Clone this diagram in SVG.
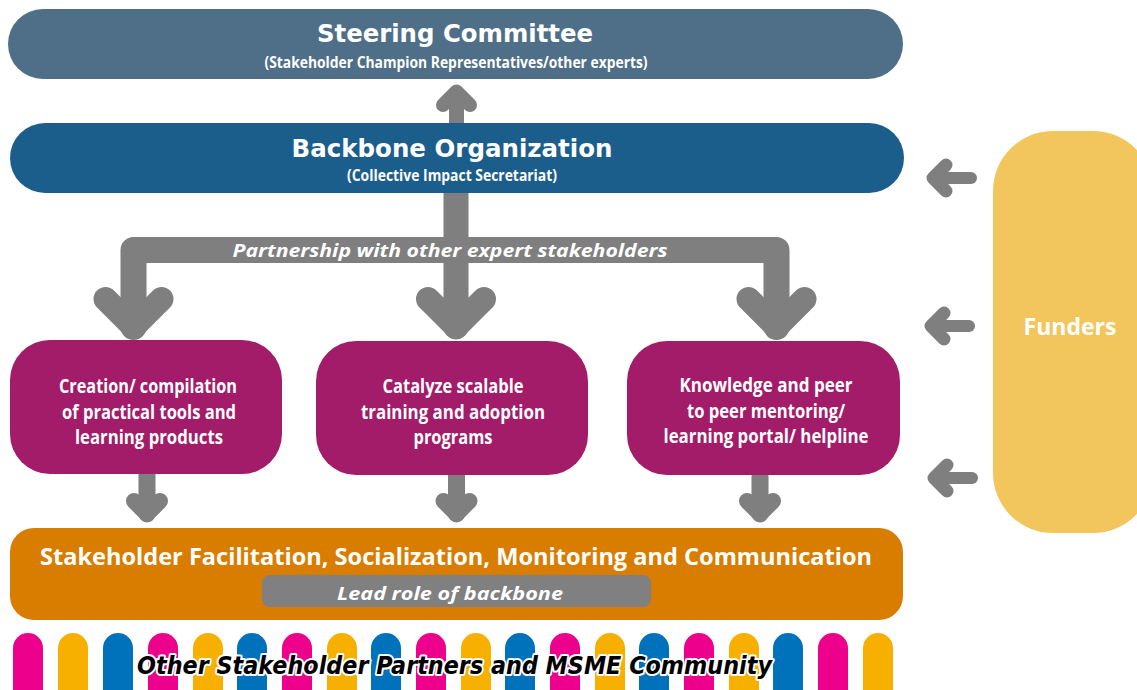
<svg xmlns="http://www.w3.org/2000/svg" width="1137" height="690" viewBox="0 0 1137 690">
<style>
.arr{fill:none;stroke:#7f7f7f;stroke-linecap:round;stroke-linejoin:round}
.t{font-family:"DejaVu Sans","Verdana",sans-serif;font-weight:bold;fill:#fff;text-anchor:middle}
.s{font-family:"Open Sans","Liberation Sans",sans-serif;font-weight:bold;fill:#fff;text-anchor:middle}
.it{font-family:"Open Sans","Liberation Sans",sans-serif;font-weight:bold;font-style:italic;fill:#fff;text-anchor:middle}
.box{fill:#a21c69}
.pm{fill:#ec008c}.py{fill:#f8b000}.pb{fill:#0071bb}
</style>
<rect width="1137" height="690" fill="#fff"/>
<g id="connectors">
  <path class="arr" stroke-width="15" d="M456.5,123 V93"/>
  <path class="arr" stroke-width="14" d="M443,105 L456.5,91.5 L470,105"/>
  <path class="arr" stroke-width="25" d="M456,193 V327"/>
  <path class="arr" stroke-width="26" d="M133.5,327 V250 H776.5 V327"/>
  <path class="arr" stroke-width="24" d="M105.5,299 L133.5,327 L161.5,299"/>
  <path class="arr" stroke-width="24" d="M428,299 L456,327 L484,299"/>
  <path class="arr" stroke-width="24" d="M748.5,299 L776.5,327 L804.5,299"/>
  <text class="it" x="450" y="257" font-size="18" textLength="435" lengthAdjust="spacingAndGlyphs">Partnership with other expert stakeholders</text>
  <path class="arr" stroke-width="17" d="M147,474 V514"/>
  <path class="arr" stroke-width="16" d="M134,501 L147,514 L160,501"/>
  <path class="arr" stroke-width="17" d="M456.5,475 V514"/>
  <path class="arr" stroke-width="16" d="M443.5,501 L456.5,514 L469.5,501"/>
  <path class="arr" stroke-width="17" d="M760,475 V514"/>
  <path class="arr" stroke-width="16" d="M747,501 L760,514 L773,501"/>
  <path class="arr" stroke-width="12" d="M971,178 H934"/>
  <path class="arr" stroke-width="13" d="M946,165 L933,178 L946,191"/>
  <path class="arr" stroke-width="12" d="M969,326 H932"/>
  <path class="arr" stroke-width="13" d="M944,313 L931,326 L944,339"/>
  <path class="arr" stroke-width="12" d="M972,478 H935"/>
  <path class="arr" stroke-width="13" d="M947,465 L934,478 L947,491"/>
</g>
<g id="steering">
  <rect x="8" y="9" width="895" height="70" rx="35" fill="#4e6f87"/>
  <text class="t" x="455" y="42" font-size="24" textLength="276" lengthAdjust="spacingAndGlyphs">Steering Committee</text>
  <text class="s" x="456" y="68" font-size="16" textLength="383" lengthAdjust="spacingAndGlyphs">(Stakeholder Champion Representatives/other experts)</text>
</g>
<g id="backbone">
  <rect x="10" y="123" width="894" height="70" rx="35" fill="#1b5e8b"/>
  <text class="t" x="452" y="157" font-size="24" textLength="321" lengthAdjust="spacingAndGlyphs">Backbone Organization</text>
  <text class="s" x="452" y="181" font-size="16" textLength="210" lengthAdjust="spacingAndGlyphs">(Collective Impact Secretariat)</text>
</g>
<g id="funders">
  <rect x="993" y="131" width="160" height="402" rx="60" fill="#f3c55d"/>
  <text class="s" x="1070" y="335" font-size="23" textLength="93" lengthAdjust="spacingAndGlyphs">Funders</text>
</g>
<g id="tools">
  <rect class="box" x="10" y="340" width="272" height="134" rx="40"/>
  <text class="s" x="148" y="393" font-size="20" textLength="178" lengthAdjust="spacingAndGlyphs">Creation/ compilation</text>
  <text class="s" x="149" y="419" font-size="20" textLength="174" lengthAdjust="spacingAndGlyphs">of practical tools and</text>
  <text class="s" x="149" y="444" font-size="20" textLength="148" lengthAdjust="spacingAndGlyphs">learning products</text>
</g>
<g id="training">
  <rect class="box" x="316" y="341" width="272" height="134" rx="40"/>
  <text class="s" x="453" y="393" font-size="20" textLength="141" lengthAdjust="spacingAndGlyphs">Catalyze scalable</text>
  <text class="s" x="453" y="419" font-size="20" textLength="184" lengthAdjust="spacingAndGlyphs">training and adoption</text>
  <text class="s" x="453" y="444" font-size="20" textLength="79" lengthAdjust="spacingAndGlyphs">programs</text>
</g>
<g id="knowledge">
  <rect class="box" x="627" y="341" width="273" height="134" rx="40"/>
  <text class="s" x="766" y="392" font-size="20" textLength="173" lengthAdjust="spacingAndGlyphs">Knowledge and peer</text>
  <text class="s" x="766" y="418" font-size="20" textLength="158" lengthAdjust="spacingAndGlyphs">to peer mentoring/</text>
  <text class="s" x="766" y="443" font-size="20" textLength="205" lengthAdjust="spacingAndGlyphs">learning portal/ helpline</text>
</g>
<g id="facilitation">
  <rect x="10" y="528" width="893" height="92" rx="24" fill="#d87d00"/>
  <text class="s" x="456" y="565" font-size="24" font-weight="600" textLength="832" lengthAdjust="spacingAndGlyphs">Stakeholder Facilitation, Socialization, Monitoring and Communication</text>
  <rect x="262" y="575" width="389" height="32" rx="8" fill="#808080"/>
  <text class="it" x="450" y="600" font-size="18" textLength="226" lengthAdjust="spacingAndGlyphs">Lead role of backbone</text>
</g>
<g id="community">
  <rect class="pm" x="13" y="633" width="30" height="80" rx="15"/>
  <rect class="py" x="58" y="633" width="30" height="80" rx="15"/>
  <rect class="pb" x="103" y="633" width="30" height="80" rx="15"/>
  <rect class="pm" x="148" y="633" width="30" height="80" rx="15"/>
  <rect class="py" x="193" y="633" width="30" height="80" rx="15"/>
  <rect class="pb" x="237" y="633" width="30" height="80" rx="15"/>
  <rect class="pm" x="282" y="633" width="30" height="80" rx="15"/>
  <rect class="py" x="327" y="633" width="30" height="80" rx="15"/>
  <rect class="pb" x="371" y="633" width="30" height="80" rx="15"/>
  <rect class="pm" x="416" y="633" width="30" height="80" rx="15"/>
  <rect class="py" x="461" y="633" width="30" height="80" rx="15"/>
  <rect class="pb" x="505" y="633" width="30" height="80" rx="15"/>
  <rect class="pm" x="550" y="633" width="30" height="80" rx="15"/>
  <rect class="py" x="595" y="633" width="30" height="80" rx="15"/>
  <rect class="pb" x="639" y="633" width="30" height="80" rx="15"/>
  <rect class="pm" x="684" y="633" width="30" height="80" rx="15"/>
  <rect class="py" x="729" y="633" width="30" height="80" rx="15"/>
  <rect class="pb" x="773" y="633" width="30" height="80" rx="15"/>
  <rect class="pm" x="818" y="633" width="30" height="80" rx="15"/>
  <rect class="py" x="863" y="633" width="30" height="80" rx="15"/>
  <text x="137" y="674" font-family="'DejaVu Sans',Verdana,sans-serif" font-weight="bold" font-style="italic" font-size="24" textLength="635" lengthAdjust="spacingAndGlyphs" fill="#000" stroke="#fff" stroke-width="4" stroke-linejoin="round" paint-order="stroke">Other Stakeholder Partners and MSME Community</text>
</g>
</svg>
